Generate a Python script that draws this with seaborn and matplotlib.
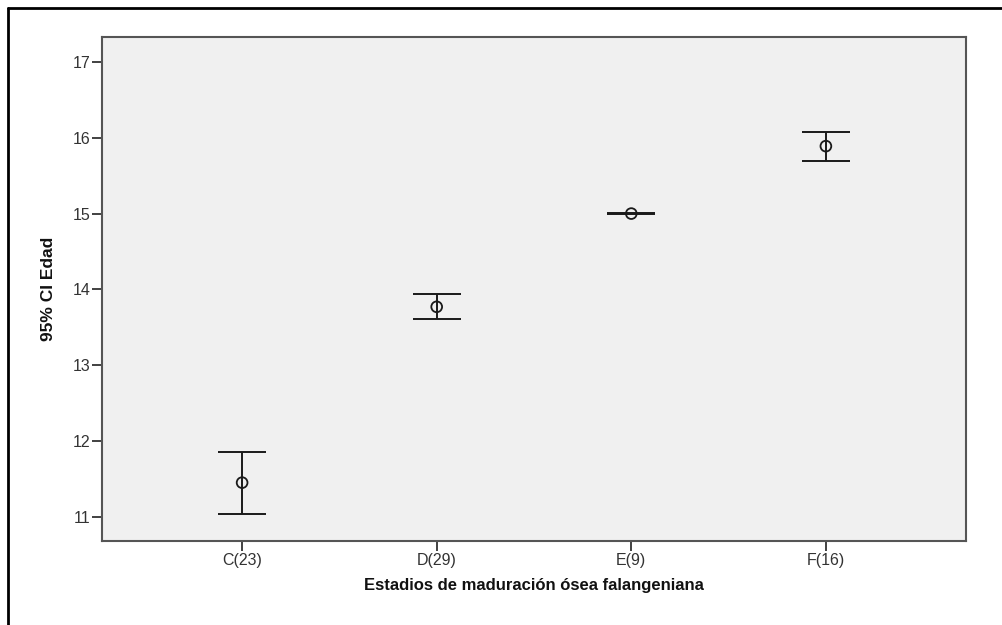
import numpy as np
import pandas as pd
import matplotlib
matplotlib.use("Agg")
import matplotlib.pyplot as plt
from matplotlib.lines import Line2D
import seaborn as sns

# Group labels (stage and sample size) and 95% CI of age per stage
categories = ["C(23)", "D(29)", "E(9)", "F(16)"]
mean_age = [11.45, 13.77, 15.00, 15.89]
ci_lower = [11.04, 13.61, 14.995, 15.70]
ci_upper = [11.86, 13.94, 15.005, 16.07]
y_ticks = [11, 12, 13, 14, 15, 16, 17]

df = pd.DataFrame({"stage": categories, "mean": mean_age,
                   "lo": ci_lower, "hi": ci_upper})

sns.set_theme(style="white")
plt.rcParams["font.family"] = ["Liberation Sans", "DejaVu Sans"]

fig = plt.figure(figsize=(10.03, 6.25), dpi=100)
ax = fig.add_axes([102 / 1003, 1 - 541 / 625, 864 / 1003, 504 / 625])
ax.set_facecolor("#f0f0f0")

pos = np.arange(len(categories))
err = [df["mean"] - df["lo"], df["hi"] - df["mean"]]
ax.errorbar(pos, df["mean"], yerr=err, fmt="none", ecolor="#1a1a1a",
            elinewidth=1.4, capsize=17.5, capthick=1.4, zorder=2)
sns.scatterplot(x=pos, y=df["mean"], ax=ax, marker="o", s=60,
                facecolor="none", edgecolor="#1a1a1a", linewidth=1.3,
                zorder=3, legend=False)

ax.set_xlim(-0.72, 3.72)
ax.set_ylim(10.68, 17.33)
ax.set_xticks(pos)
ax.set_xticklabels(categories)
ax.set_yticks(y_ticks)
ax.tick_params(axis="both", direction="out", length=7, width=1.3,
               color="#333333", labelsize=11.5, labelcolor="#333333",
               bottom=True, left=True, pad=1.5)
for side in ax.spines.values():
    side.set_color("#555555")
    side.set_linewidth(1.5)

ax.set_xlabel("Estadios de maduración ósea falangeniana", fontsize=12,
              fontweight="bold", color="#111111", labelpad=7)
ax.set_ylabel("95% CI Edad", fontsize=12.5, fontweight="bold",
              color="#111111", labelpad=12)

# Outer frame around the figure (open at right and bottom edges)
fig.add_artist(Line2D([8 / 1003, 1.0], [1 - 8 / 625, 1 - 8 / 625],
                      transform=fig.transFigure, color="black", lw=2))
fig.add_artist(Line2D([8 / 1003, 8 / 1003], [0.0, 1 - 8 / 625],
                      transform=fig.transFigure, color="black", lw=2))

fig.savefig("out.png", dpi=100)
